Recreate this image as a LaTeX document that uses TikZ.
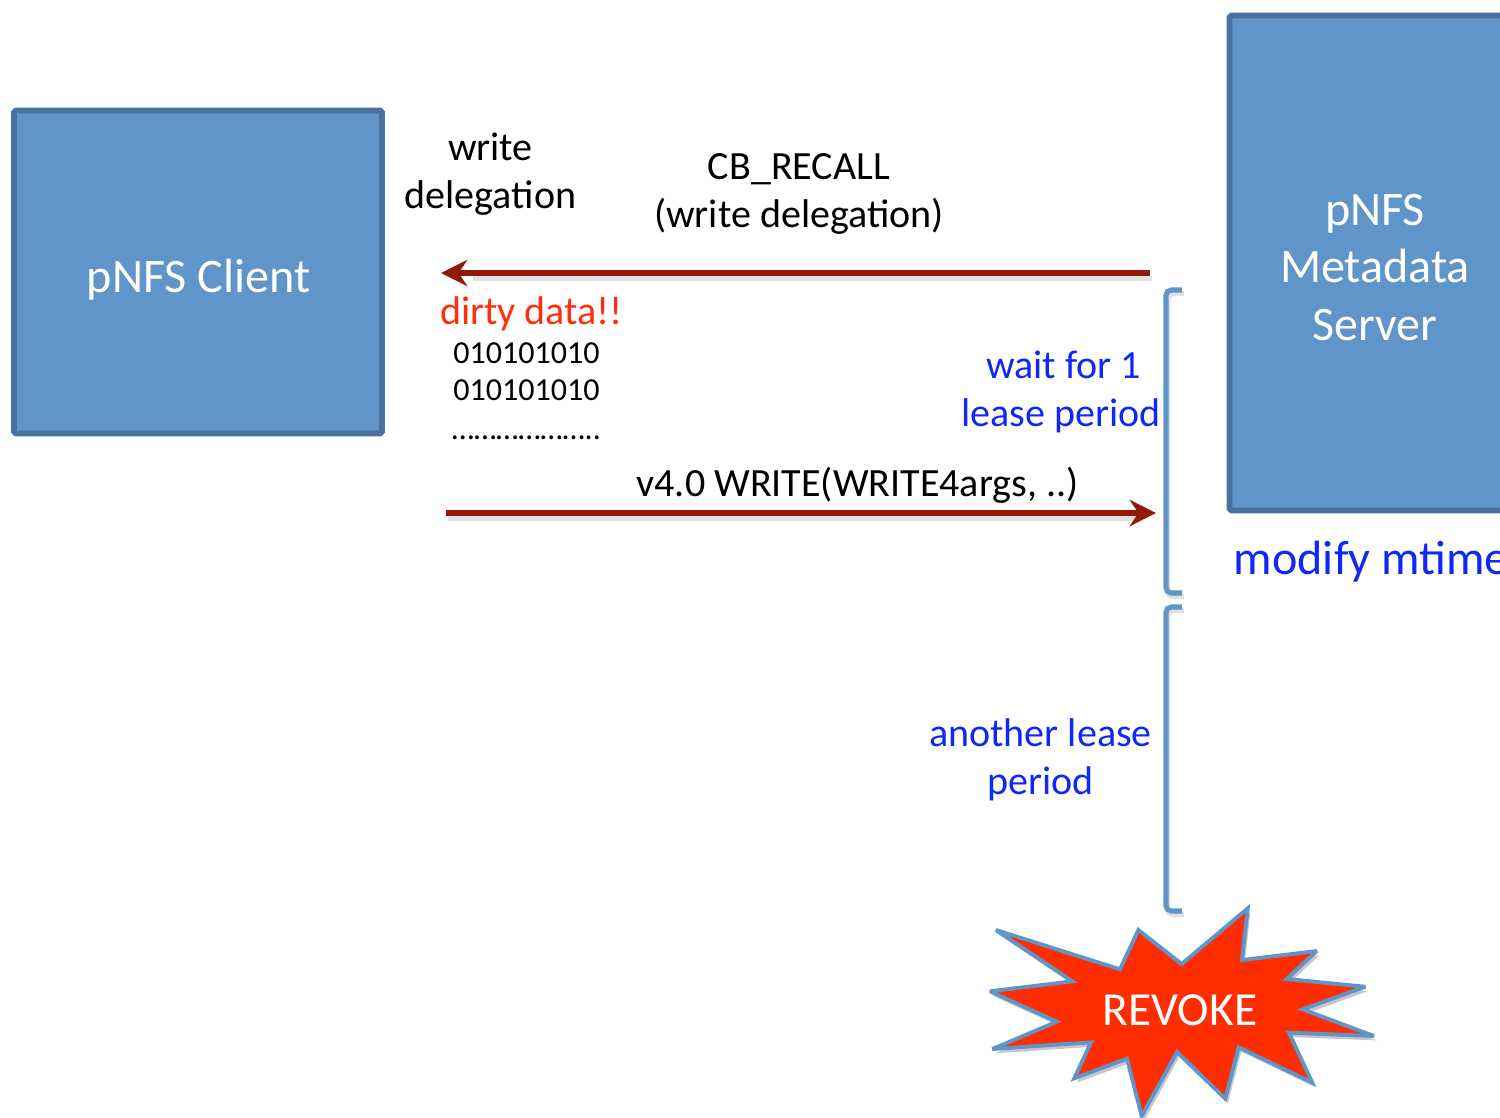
\documentclass[tikz,border=0pt]{standalone}
\usepackage{fontspec}
\setmainfont{Carlito}
\usetikzlibrary{arrows.meta,shadows}
\definecolor{boxfill}{HTML}{6095C9}
\definecolor{boxline}{HTML}{48719E}
\definecolor{arrowred}{HTML}{8F1A08}
\definecolor{textblue}{HTML}{0F28F5}
\definecolor{textred}{HTML}{FF2F0A}
\definecolor{burst}{HTML}{FF2D00}
\tikzset{
  softshadow/.style={drop shadow={shadow xshift=1.5pt,shadow yshift=-2.5pt,opacity=.22,fill=black}},
  boxnode/.style={draw=boxline,fill=boxfill,line width=3.2pt,rounded corners=1pt,inner sep=0pt},
  boxtext/.style={text=white,align=center,inner sep=0pt,font=\fontsize{27.4}{32.5}\selectfont},
  label/.style={inner sep=0pt,align=center,font=\fontsize{22.8}{27.3}\selectfont},
  bluelabel/.style={label,text=textblue},
  msgarrow/.style={draw=arrowred,line width=3.1pt,-{Stealth[length=15pt,width=15pt,inset=5pt]}},
  bracket/.style={draw=boxfill,line width=2.9pt,rounded corners=3pt},
  shade copy/.style={draw=black,opacity=.16},
}
\begin{document}
\begin{tikzpicture}[x=0.02cm,y=-0.02cm]
\useasboundingbox (0,0) rectangle (1500,1117);
\clip (0,0) rectangle (1500,1117);

% boxes
\node[boxnode,minimum width=5.82cm,minimum height=9.9cm,anchor=center] (server) at (1375,263) {};
\node[boxnode,minimum width=7.36cm,minimum height=6.46cm,anchor=center] (client) at (198,272) {};
\node[boxtext] (clienttext) at (198.5,279.5) {pNFS Client};
\node[boxtext] (servertext) at (1375,267.5) {pNFS\\Metadata\\Server};

% labels
\node[label] (wd) at (490.5,174) {write\\delegation};
\node[label] (cb) at (799,194) {CB\_RECALL\\(write delegation)};
\node[label,text=textred] (dirty) at (531.5,313.5) {dirty data!!};
\node[inner sep=0pt,align=center,font=\fontsize{18.25}{21.2}\selectfont] (bits) at (526.5,391) {010101010\\010101010\\[1pt]………………..};
\node[label] (write) at (857.5,485) {v4.0 WRITE(WRITE4args, ..)};
\node[bluelabel] (wait) at (1061,392) {\hspace*{3pt}wait for 1\\lease period};
\node[bluelabel] (another) at (1040.5,760) {another lease\\period};
\node[bluelabel,anchor=west,font=\fontsize{27.4}{32}\selectfont] (mtime) at (1233.5,562) {modify mtime};

% arrows
\coordinate (a1s) at (1150,273);
\coordinate (a1e) at (441,273);
\coordinate (a2s) at (446,513);
\coordinate (a2e) at (1156,513);
\draw[shade copy,line width=2.7pt,line cap=butt,opacity=.12] ([xshift=1pt,yshift=-3pt]a1s) -- ([xshift=18pt,yshift=-3pt]a1e);
\draw[shade copy,line width=2.7pt,line cap=butt,opacity=.12] ([xshift=1pt,yshift=-3pt]a2s) -- ([xshift=-8pt,yshift=-3pt]a2e);
\draw[msgarrow] (a1s) -- (a1e);
\draw[msgarrow] (a2s) -- (a2e);

% brackets
\coordinate (b1t) at (1182,290);
\coordinate (b1c) at (1166,290);
\coordinate (b1d) at (1166,593);
\coordinate (b1b) at (1182,593);
\coordinate (b2t) at (1182,607);
\coordinate (b2c) at (1166,607);
\coordinate (b2d) at (1166,911);
\coordinate (b2b) at (1182,911);
\draw[bracket,shade copy,line width=2.9pt,opacity=.12] ([xshift=1pt,yshift=-2pt]b1t) -- ([xshift=1pt,yshift=-2pt]b1c) -- ([xshift=1pt,yshift=-2pt]b1d) -- ([xshift=1pt,yshift=-2pt]b1b);
\draw[bracket,shade copy,line width=2.9pt,opacity=.12] ([xshift=1pt,yshift=-2pt]b2t) -- ([xshift=1pt,yshift=-2pt]b2c) -- ([xshift=1pt,yshift=-2pt]b2d) -- ([xshift=1pt,yshift=-2pt]b2b);
\draw[bracket] (b1t) -- (b1c) -- (b1d) -- (b1b);
\draw[bracket] (b2t) -- (b2c) -- (b2d) -- (b2b);

% starburst
\draw[draw=boxfill,fill=burst,line width=2.2pt,line join=miter,miter limit=3,softshadow]
 (996,930)--(1120,969.3)--(1138.3,930)--(1181.7,964)--(1247.7,908.3)--(1242,960)--(1316.7,951)--(1286.7,979)
 --(1365.3,986.7)--(1302.7,1009.3)--(1374,1036)--(1289,1032.7)--(1312.3,1082.7)--(1238.7,1047.3)--(1225.3,1098.7)
 --(1177,1052)--(1141.7,1116)--(1127,1058.7)--(1074.3,1078.3)--(1091,1042.3)--(992.3,1049)--(1056.7,1021.7)
 --(990,991.3)--(1072.3,981.3)--cycle;
\node[text=white,inner sep=0pt,font=\fontsize{27}{32}\selectfont] (revoke) at (1180,1010) {REVOKE};
\end{tikzpicture}
\end{document}
